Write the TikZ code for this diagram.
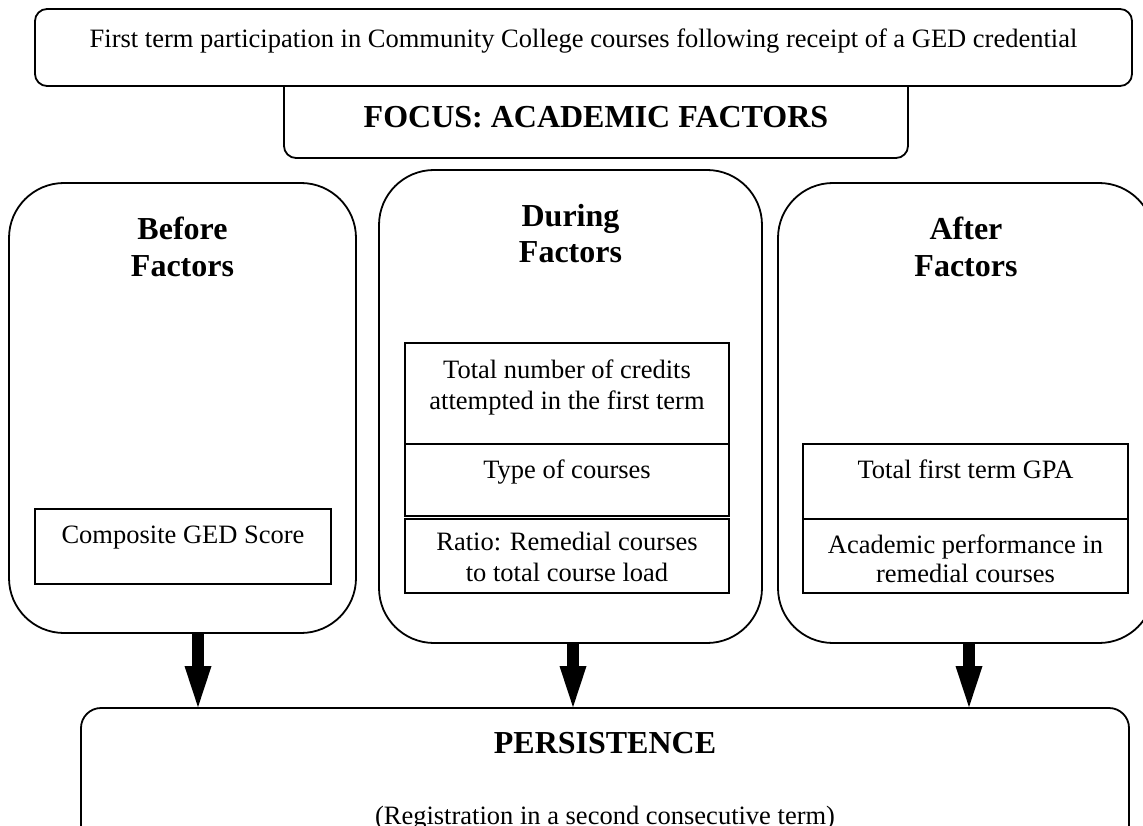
\documentclass[tikz,border=0pt]{standalone}
\usepackage{fontspec}
\setmainfont{Liberation Serif}
\usetikzlibrary{arrows.meta,positioning}
\tikzset{
  headbox/.style={draw=black,fill=white,line width=1.8pt,rounded corners=12pt,
    inner sep=0pt},
  phasebox/.style={draw=black,line width=1.8pt,rounded corners=55pt,inner sep=0pt},
  outbox/.style={draw=black,line width=1.8pt,rounded corners=20pt,inner sep=0pt},
  cellbox/.style={draw=black,line width=1.2pt,inner sep=0pt},
  bodytxt/.style={anchor=base,inner sep=0pt,font=\fontsize{26.5}{30}\selectfont},
  boldtxt/.style={anchor=base,inner sep=0pt,font=\fontsize{32}{37}\selectfont\bfseries},
  bigarrow/.style={line width=12pt,-{Triangle[length=41pt,width=27pt,line width=0pt]}},
}
\begin{document}
\begin{tikzpicture}[x=1pt,y=-1pt]
  \useasboundingbox (0,0) rectangle (1143,826);
  \clip (0,0) rectangle (1143,826);
  % --- heading: focus box tucked under the first-term box ---
  \node[headbox,minimum width=624pt,minimum height=92pt] (focus) at (596,112) {};
  \node[headbox,minimum width=1097pt,minimum height=77pt] (header) at (583.5,47.5) {};
  \node[bodytxt] (headertxt) at (583.5,48)
    {First term participation in Community College courses following receipt of a GED credential};
  \node[boldtxt] (focustxt) at (596,128) {FOCUS: ACADEMIC FACTORS};
  % --- before ---
  \node[phasebox,minimum width=347pt,minimum height=450pt] (before) at (182.5,408) {};
  \node[boldtxt] (beforet1) at (182.5,240) {Before};
  \node[boldtxt] (beforet2) at (182.5,277) {Factors};
  \node[cellbox,minimum width=296pt,minimum height=75pt] (gedcell) at (183,546.5) {};
  \node[bodytxt] (gedtxt) at (183,543) {Composite GED Score};
  % --- during ---
  \node[phasebox,minimum width=383pt,minimum height=473pt] (during) at (570.5,406.5) {};
  \node[boldtxt] (duringt1) at (570.5,227) {During};
  \node[boldtxt] (duringt2) at (570.5,263) {Factors};
  \node[cellbox,minimum width=324pt,minimum height=101pt] (credcell) at (567,393.5) {};
  \node[cellbox,minimum width=324pt,minimum height=72pt] (typecell) at (567,480) {};
  \node[cellbox,minimum width=324pt,minimum height=74pt] (ratiocell) at (567,556) {};
  \node[bodytxt] (credtxt1) at (567,378) {Total number of credits};
  \node[bodytxt] (credtxt2) at (567,409) {attempted in the first term};
  \node[bodytxt] (typetxt) at (567,478) {Type of courses};
  \node[bodytxt] (ratiotxt1) at (567,550) {Ratio: Remedial courses};
  \node[bodytxt] (ratiotxt2) at (567,581) {to total course load};
  % --- after ---
  \node[phasebox,minimum width=376pt,minimum height=460pt] (after) at (966,413) {};
  \node[boldtxt] (aftert1) at (966,240) {After};
  \node[boldtxt] (aftert2) at (966,277) {Factors};
  \node[cellbox,minimum width=325pt,minimum height=75pt] (gpacell) at (965.5,481.5) {};
  \node[cellbox,minimum width=325pt,minimum height=74pt] (perfcell) at (965.5,556) {};
  \node[bodytxt] (gpatxt) at (965.5,478) {Total first term GPA};
  \node[bodytxt] (perftxt1) at (965.5,553) {Academic performance in};
  \node[bodytxt] (perftxt2) at (965.5,582) {remedial courses};
  % --- outcome ---
  \node[outbox,minimum width=1048pt,minimum height=142pt] (persist) at (605,779) {};
  \node[boldtxt] (persisttxt) at (605,753) {PERSISTENCE};
  \node[bodytxt] (regtxt) at (605,824) {(Registration in a second consecutive term)};
  \draw[bigarrow] ([xshift=15.5pt]before.south) -- ([xshift=15.5pt]before.south |- persist.north);
  \draw[bigarrow] ([xshift=2.5pt]during.south) -- ([xshift=2.5pt]during.south |- persist.north);
  \draw[bigarrow] ([xshift=3pt]after.south) -- ([xshift=3pt]after.south |- persist.north);
\end{tikzpicture}
\end{document}
